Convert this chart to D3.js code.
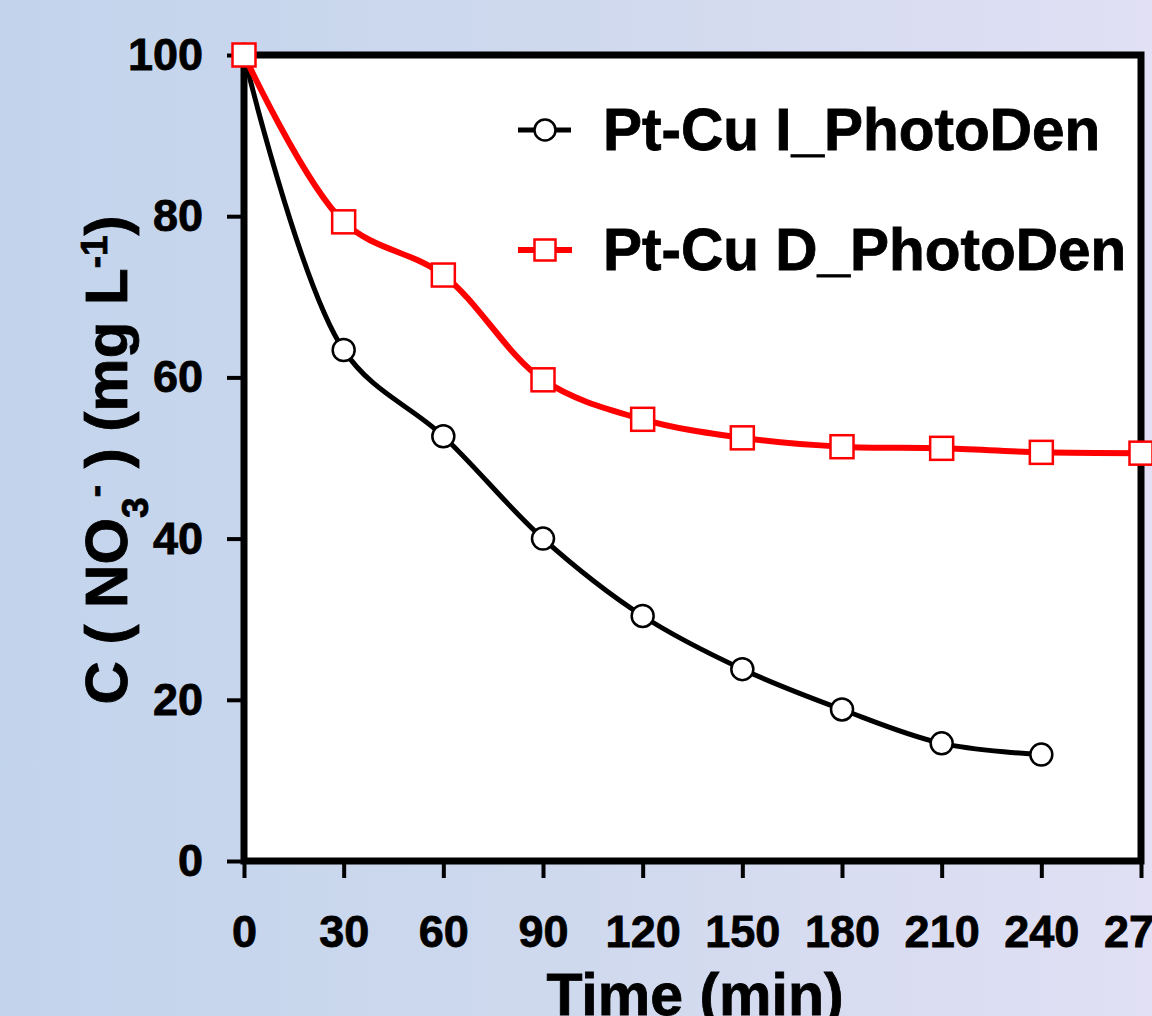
<!DOCTYPE html>
<html>
<head>
<meta charset="utf-8">
<script src="https://cdn.jsdelivr.net/npm/d3@7"></script>
<style>
  html, body { margin: 0; padding: 0; overflow: hidden; }
  text { font-family: "Liberation Sans", Arial, sans-serif; font-weight: bold; fill: #000; stroke: #000; stroke-width: 0.8px; }
</style>
</head>
<body>
<div id="chart"></div>
<script>
// data
var times = [0, 30, 60, 90, 120, 150, 180, 210, 240, 270];
var seriesI = [100, 63.4, 52.7, 40.0, 30.4, 23.8, 18.8, 14.6, 13.2];
var seriesD = [100, 79.3, 72.7, 59.7, 54.8, 52.5, 51.4, 51.2, 50.7, 50.6];
var xTicks = [0, 30, 60, 90, 120, 150, 180, 210, 240, 270];
var yTicks = [0, 20, 40, 60, 80, 100];
var legendNames = ["Pt-Cu I_PhotoDen", "Pt-Cu D_PhotoDen"];

var W = 1152, H = 1016;
var margin = {top: 55, right: 11, bottom: 155, left: 244},
  width = W - margin.left - margin.right,
  height = H - margin.top - margin.bottom;

var svg = d3.select("#chart").append("svg")
  .attr("width", W)
  .attr("height", H);

// background gradient
var grad = svg.append("defs").append("linearGradient")
  .attr("id", "bg").attr("x1", "0").attr("y1", "0").attr("x2", "1").attr("y2", "0");
grad.append("stop").attr("offset", "0").attr("stop-color", "#c2d4ec");
grad.append("stop").attr("offset", "0.5").attr("stop-color", "#cfd9ee");
grad.append("stop").attr("offset", "1").attr("stop-color", "#e1e0f4");
svg.append("rect").attr("width", W).attr("height", H).attr("fill", "url(#bg)");

var g = svg.append("g")
  .attr("transform", "translate(" + margin.left + "," + margin.top + ")");

var x = d3.scaleLinear().domain([0, 270]).range([0, width]);
var y = d3.scaleLinear().domain([0, 100]).range([height, 0]);

// plot area
g.append("rect").attr("width", width).attr("height", height).attr("fill", "#fff");

// axes
var xAxis = d3.axisBottom(x).tickValues(xTicks).tickSize(17).tickSizeOuter(0).tickPadding(37);
var yAxis = d3.axisLeft(y).tickValues(yTicks).tickSize(17).tickSizeOuter(0).tickPadding(24);

var gx = g.append("g").attr("transform", "translate(0," + height + ")").call(xAxis);
var gy = g.append("g").call(yAxis);
[gx, gy].forEach(function(a) {
  a.select(".domain").remove();
  a.selectAll(".tick line").attr("stroke", "#000").attr("stroke-width", 4);
  a.selectAll(".tick text").style("font-size", "45px").attr("fill", "#000");
});

// frame
g.append("rect").attr("width", width).attr("height", height)
  .attr("fill", "none").attr("stroke", "#000").attr("stroke-width", 7);

// lines
var line = d3.line()
  .x(function(d, i) { return x(times[i]); })
  .y(function(d) { return y(d); })
  .curve(d3.curveCatmullRom.alpha(0.5));

g.append("path").datum(seriesI).attr("d", line)
  .attr("fill", "none").attr("stroke", "#000").attr("stroke-width", 5);
g.append("path").datum(seriesD).attr("d", line)
  .attr("fill", "none").attr("stroke", "#ff0000").attr("stroke-width", 6);

g.selectAll(".ptI").data(seriesI).enter().append("circle")
  .attr("cx", function(d, i) { return x(times[i]); })
  .attr("cy", function(d) { return y(d); })
  .attr("r", 11)
  .attr("fill", "#fff").attr("stroke", "#000").attr("stroke-width", 2.5);

var s = 23;
g.selectAll(".ptD").data(seriesD).enter().append("rect")
  .attr("x", function(d, i) { return x(times[i]) - s / 2; })
  .attr("y", function(d) { return y(d) - s / 2; })
  .attr("width", s).attr("height", s)
  .attr("fill", "#fff").attr("stroke", "#ff0000").attr("stroke-width", 2.5);

// legend
var leg = svg.append("g");
var legY = [130, 250];
var ls = 21;
leg.append("line").attr("x1", 518).attr("x2", 571).attr("y1", legY[0]).attr("y2", legY[0])
  .attr("stroke", "#000").attr("stroke-width", 5);
leg.append("circle").attr("cx", 545).attr("cy", legY[0]).attr("r", 10.5)
  .attr("fill", "#fff").attr("stroke", "#000").attr("stroke-width", 2.5);
leg.append("line").attr("x1", 518).attr("x2", 572).attr("y1", legY[1]).attr("y2", legY[1])
  .attr("stroke", "#ff0000").attr("stroke-width", 6);
leg.append("rect").attr("x", 545 - ls / 2).attr("y", legY[1] - ls / 2).attr("width", ls).attr("height", ls)
  .attr("fill", "#fff").attr("stroke", "#ff0000").attr("stroke-width", 2.5);
legendNames.forEach(function(name, i) {
  leg.append("text").attr("x", 603).attr("y", legY[i] + 20)
    .style("font-size", "58.5px").text(name);
});

// axis titles
svg.append("text").attr("x", 695).attr("y", 1015).attr("text-anchor", "middle")
  .style("font-size", "59px").text("Time (min)");

var yt = svg.append("text")
  .attr("transform", "translate(127,460) rotate(-90)")
  .attr("text-anchor", "middle")
  .style("font-size", "60px");
yt.append("tspan").text("C ( NO");
yt.append("tspan").attr("baseline-shift", "sub").style("font-size", "37px").text("3");
yt.append("tspan").attr("baseline-shift", "super").style("font-size", "37px").text("-");
yt.append("tspan").text(" ) (mg L");
yt.append("tspan").attr("baseline-shift", "super").style("font-size", "37px").text("-1");
yt.append("tspan").text(")");
</script>
</body>
</html>
